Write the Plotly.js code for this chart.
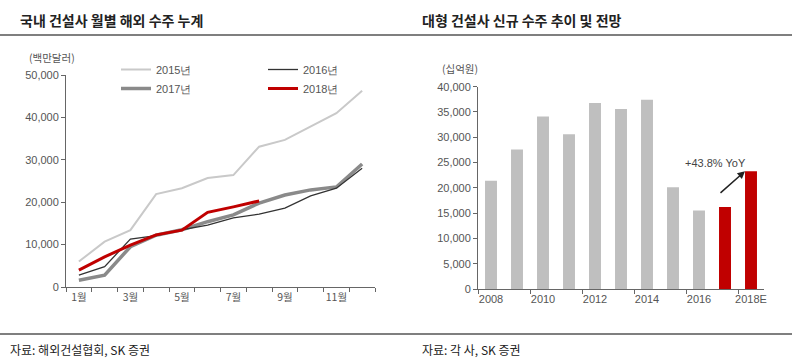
<!DOCTYPE html>
<html><head><meta charset="utf-8">
<script src="https://cdn.plot.ly/plotly-3.0.1.min.js"></script>
<style>html,body{margin:0;padding:0;background:#fff}#chart{width:800px;height:360px}</style>
</head><body><div id="chart"></div>
<script>
// Left chart: monthly cumulative overseas orders (백만달러)
const months = ['1월','2월','3월','4월','5월','6월','7월','8월','9월','10월','11월','12월'];
const orders2015 = [6000,10700,13400,21900,23300,25700,26400,33100,34700,37800,41000,46300];
const orders2016 = [2800,4800,11300,12100,13500,14600,16300,17200,18600,21500,23300,28000];
const orders2017 = [1600,2800,9500,12200,13500,15400,17000,19800,21700,22900,23600,29000];
const orders2018 = [4000,7100,9900,12300,13400,17600,18900,20300];
// Right chart: new orders of large builders (십억원)
const years = ['2008','2009','2010','2011','2012','2013','2014','2015','2016','2017','2018E'];
const newOrders = [21400,27600,34100,30600,36800,35600,37400,20100,15500,16200,23300];
const yoyLabel = '+43.8% YoY';

const monthTickText = months.map((m,i)=> i%2===0 ? m : '');
const barColors = years.map(y => (y==='2017'||y==='2018E') ? '#c00000' : '#bfbfbf');

const tickFont = {family:'Liberation Sans, Arial, sans-serif', size:11, color:'#555'};
const krFont = 'Noto Sans CJK KR, sans-serif';

const traces = [
  {x:months, y:orders2015, type:'scatter', mode:'lines', name:'2015년', line:{color:'#c9c9c9', width:2}, legend:'legend', legendrank:1, xaxis:'x', yaxis:'y'},
  {x:months, y:orders2017, type:'scatter', mode:'lines', name:'2017년', line:{color:'#8a8a8a', width:3.5}, legend:'legend', legendrank:2, xaxis:'x', yaxis:'y'},
  {x:months, y:orders2016, type:'scatter', mode:'lines', name:'2016년', line:{color:'#333333', width:1.3}, legend:'legend2', legendrank:1, xaxis:'x', yaxis:'y'},
  {x:months.slice(0,orders2018.length), y:orders2018, type:'scatter', mode:'lines', name:'2018년', line:{color:'#c00000', width:3}, legend:'legend2', legendrank:2, xaxis:'x', yaxis:'y'},
  {x:years, y:newOrders, type:'bar', marker:{color:barColors}, showlegend:false, xaxis:'x2', yaxis:'y2', hoverinfo:'x+y'}
];

const axisCommon = {showgrid:false, zeroline:false, showline:true, linecolor:'#666', linewidth:1,
  ticks:'outside', ticklen:4, tickcolor:'#666', tickfont:tickFont, fixedrange:true};

const legendCommon = {orientation:'v', yanchor:'top', xanchor:'left', y:1-55/360,
  font:{family:'Liberation Sans, Arial, sans-serif', size:11, color:'#555'}, bgcolor:'rgba(0,0,0,0)', tracegroupgap:0, itemwidth:30};

const layout = {
  width:800, height:360, margin:{l:0,r:0,t:0,b:0},
  paper_bgcolor:'#fff', plot_bgcolor:'#fff',
  bargap:0.54,
  xaxis: Object.assign({}, axisCommon, {domain:[66/800, 375/800], type:'category', range:[-0.5,11.5],
    tickson:'boundaries', tickvals:months, ticktext:monthTickText, tickangle:0, anchor:'y',
    tickfont:Object.assign({}, tickFont, {family:krFont, size:10.5})}),
  yaxis: Object.assign({}, axisCommon, {domain:[1-287/360, 1-75/360], range:[0,50000], dtick:10000, tickformat:',', anchor:'x'}),
  xaxis2: Object.assign({}, axisCommon, {domain:[478/800, 764/800], type:'category', range:[-0.5,10.5],
    tickson:'boundaries', dtick:2, tickangle:0, anchor:'y2'}),
  yaxis2: Object.assign({}, axisCommon, {domain:[1-289/360, 1-86.7/360], range:[0,40000], dtick:5000, tickformat:',', anchor:'x2'}),
  legend: Object.assign({}, legendCommon, {x:116/800}),
  legend2: Object.assign({}, legendCommon, {x:263/800}),
  shapes:[
    {type:'line', xref:'paper', yref:'paper', x0:0, x1:792/800, y0:1-35/360, y1:1-35/360, line:{color:'#555', width:1.5}},
    {type:'line', xref:'paper', yref:'paper', x0:0, x1:792/800, y0:1-334/360, y1:1-334/360, line:{color:'#555', width:1.5}}
  ],
  annotations:[
    {text:'<b>국내 건설사 월별 해외 수주 누계</b>', xref:'paper', yref:'paper', x:18/800, y:1-20/360, xanchor:'left', yanchor:'middle', showarrow:false, font:{family:krFont, size:14, color:'#222'}},
    {text:'<b>대형 건설사 신규 수주 추이 및 전망</b>', xref:'paper', yref:'paper', x:420/800, y:1-20/360, xanchor:'left', yanchor:'middle', showarrow:false, font:{family:krFont, size:14, color:'#222'}},
    {text:'(백만달러)', xref:'paper', yref:'paper', x:27/800, y:1-57/360, xanchor:'left', yanchor:'middle', showarrow:false, font:{family:krFont, size:10.5, color:'#555'}},
    {text:'(십억원)', xref:'paper', yref:'paper', x:440/800, y:1-68/360, xanchor:'left', yanchor:'middle', showarrow:false, font:{family:krFont, size:10.5, color:'#555'}},
    {text:'자료: 해외건설협회, SK 증권', xref:'paper', yref:'paper', x:8/800, y:1-349/360, xanchor:'left', yanchor:'middle', showarrow:false, font:{family:krFont, size:12, color:'#222'}},
    {text:'자료: 각 사, SK 증권', xref:'paper', yref:'paper', x:420/800, y:1-349/360, xanchor:'left', yanchor:'middle', showarrow:false, font:{family:krFont, size:12, color:'#222'}},
    {text:yoyLabel, xref:'x2', yref:'y2', x:years.indexOf('2017'), y:25000, xshift:-10, xanchor:'center', yanchor:'middle', showarrow:false, font:{family:'Liberation Sans, Arial, sans-serif', size:11, color:'#444'}},
    {text:'', xref:'x2', yref:'y2', x:years.indexOf('2018E'), y:newOrders[newOrders.length-1], xshift:-6, showarrow:true, arrowhead:2, arrowsize:1, arrowwidth:1.5, arrowcolor:'#222', ax:-26, ay:23, standoff:0}
  ],
  showlegend:true
};

Plotly.newPlot('chart', traces, layout, {displayModeBar:false, staticPlot:true});
</script></body></html>
